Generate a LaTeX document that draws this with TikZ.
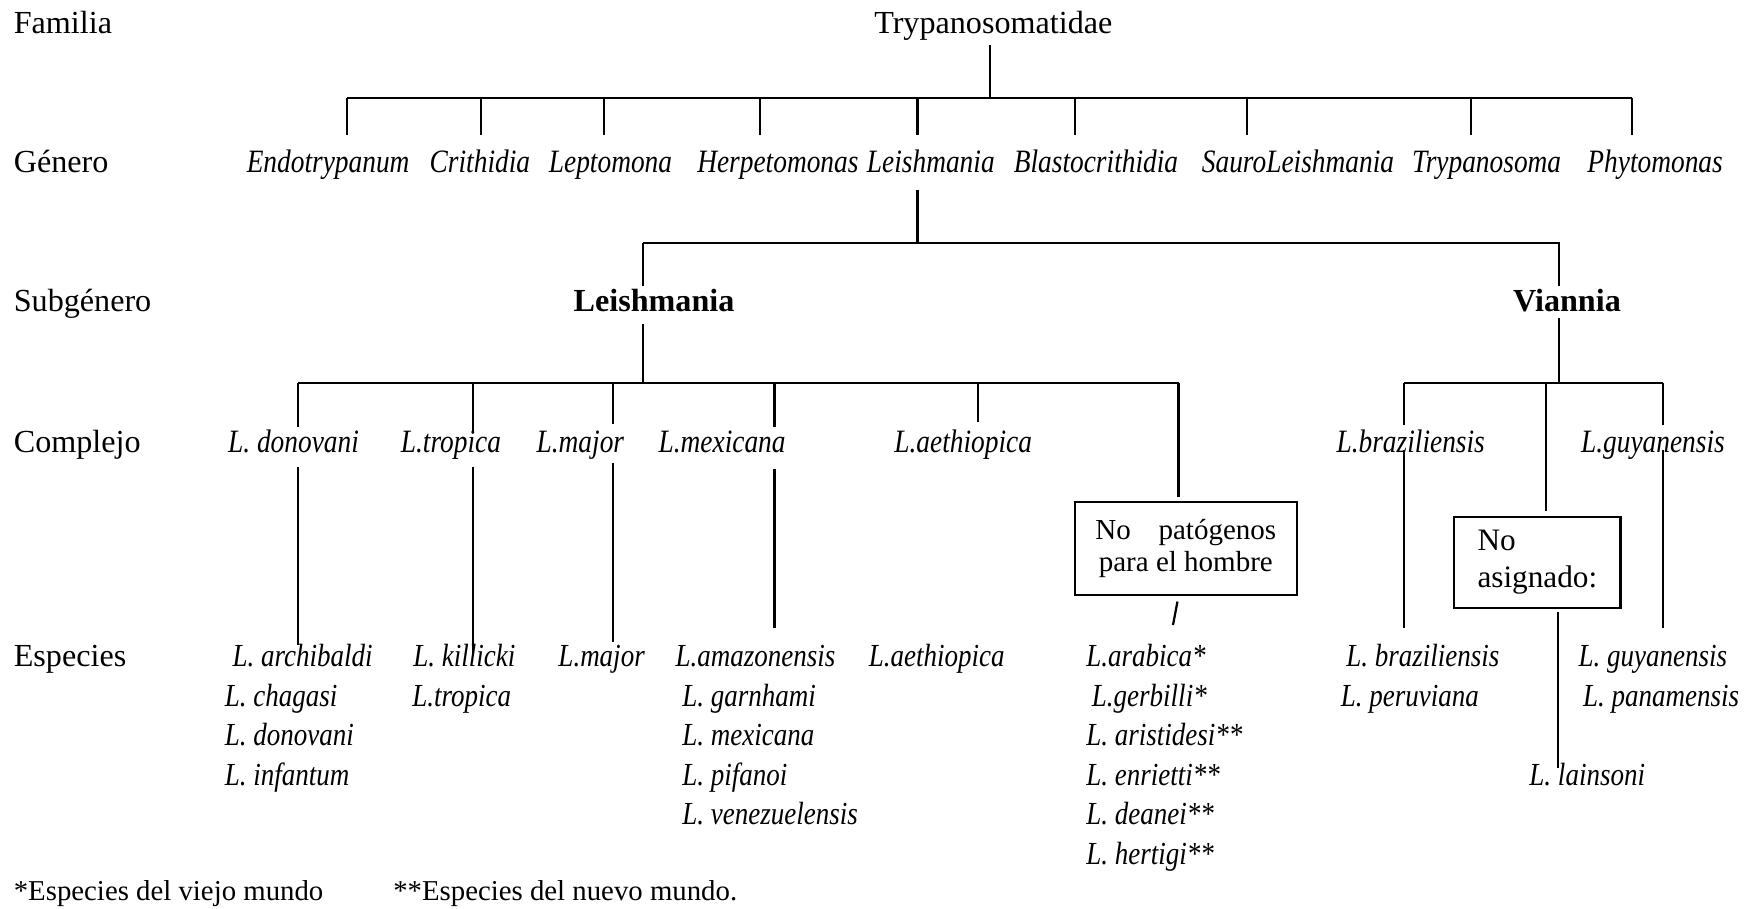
\documentclass[tikz,border=0pt]{standalone}
\usepackage{fontspec}
\setmainfont{Liberation Serif}[ItalicFeatures={FakeStretch=0.84}]
\begin{document}
\begin{tikzpicture}[x=0.5pt,y=-0.5pt,
  ln/.style={line width=1pt},
  txt/.style={inner sep=0pt, font=\fontsize{14.4}{17.75}\selectfont},
  lab/.style={txt, anchor=base west},
  ctr/.style={txt, anchor=base},
  foot/.style={inner sep=0pt, anchor=base west, font=\fontsize{12.9}{15}\selectfont},
  gen/.style={inner sep=0pt, anchor=base, font=\fontsize{14.6}{17.75}\selectfont\itshape},
  sp/.style={inner sep=0pt, anchor=base west, font=\fontsize{14.4}{17.75}\selectfont\itshape},
  sub/.style={inner sep=0pt, anchor=base, font=\fontsize{14.4}{17.75}\selectfont\bfseries},
  boxnode/.style={draw, line width=1pt, inner sep=0pt}]
\useasboundingbox (0,0) rectangle (1568,814);

% row labels
\node[lab] (rFam) at (12,30) {Familia};
\node[lab] (rGen) at (12,155) {Género};
\node[lab] (rSub) at (12,279) {Subgénero};
\node[lab] (rCom) at (12,405) {Complejo};
\node[lab] (rEsp) at (12,597) {Especies};

% familia
\node[ctr] (fam) at (890,30) {Trypanosomatidae};

% generos
\node[gen] (g1) at (294,155) {Endotrypanum};
\node[gen] (g2) at (430,155) {Crithidia};
\node[gen] (g3) at (547,155) {Leptomona};
\node[gen] (g4) at (697,155) {Herpetomonas};
\node[gen] (g5) at (834,155) {Leishmania};
\node[gen] (g6) at (982,155) {Blastocrithidia};
\node[gen] (g7) at (1163,155) {SauroLeishmania};
\node[gen] (g8) at (1332,155) {Trypanosoma};
\node[gen] (g9) at (1483,155) {Phytomonas};

% subgeneros
\node[sub] (sL) at (586,279) {Leishmania};
\node[sub] (sV) at (1404,279) {Viannia};

% complejos
\node[gen] (c1) at (263,405) {L. donovani};
\node[gen] (c2) at (404,405) {L.tropica};
\node[gen] (c3) at (520,405) {L.major};
\node[gen] (c4) at (647,405) {L.mexicana};
\node[gen] (c5) at (863,405) {L.aethiopica};
\node[gen] (c6) at (1264,405) {L.braziliensis};
\node[gen] (c7) at (1481,405) {L.guyanensis};

% boxes
\node[boxnode, minimum width=99.5pt, minimum height=41.5pt, align=center,
  font=\fontsize{13}{14.5}\selectfont] (box1) at (1062.5,491.5)
  {\makebox[81pt][s]{No\hfill patógenos}\\para el hombre};
\node[boxnode, minimum width=74.5pt, minimum height=41pt, align=left,
  font=\fontsize{14}{16.5}\selectfont] (box2) at (1377.5,504)
  {No\\asignado:};

% especies
\node[sp] (e11) at (208,597) {L. archibaldi};
\node[sp] (e12) at (201,633) {L. chagasi};
\node[sp] (e13) at (201,668) {L. donovani};
\node[sp] (e14) at (201,704) {L. infantum};
\node[sp] (e21) at (370,597) {L. killicki};
\node[sp] (e22) at (369,633) {L.tropica};
\node[sp] (e31) at (500,597) {L.major};
\node[sp] (e41) at (605,597) {L.amazonensis};
\node[sp] (e42) at (611,633) {L. garnhami};
\node[sp] (e43) at (611,668) {L. mexicana};
\node[sp] (e44) at (611,704) {L. pifanoi};
\node[sp] (e45) at (611,739) {L. venezuelensis};
\node[sp] (e51) at (778,597) {L.aethiopica};
\node[sp] (e61) at (973,597) {L.arabica*};
\node[sp] (e62) at (978,633) {L.gerbilli*};
\node[sp] (e63) at (973,668) {L. aristidesi**};
\node[sp] (e64) at (973,704) {L. enrietti**};
\node[sp] (e65) at (973,739) {L. deanei**};
\node[sp] (e66) at (973,775) {L. hertigi**};
\node[sp] (e71) at (1206,597) {L. braziliensis};
\node[sp] (e72) at (1201,633) {L. peruviana};
\node[sp] (e81) at (1414,597) {L. guyanensis};
\node[sp] (e82) at (1418,633) {L. panamensis};
\node[sp] (e91) at (1370,704) {L. lainsoni};

% footnotes
\node[foot] (n1) at (12,807) {*Especies del viejo mundo};
\node[foot] (n2) at (352,807) {**Especies del nuevo mundo.};

% ---------- connectors ----------
% familia -> generos
\coordinate (fT) at (887,40);
\coordinate (fB) at (887,88);
\coordinate (b1L) at (311,88);
\coordinate (b1R) at (1462,88);
\draw[ln] (fT) -- (fB);
\draw[ln] (b1L) -- (b1R);
\foreach \n/\x in {1/311,2/431,3/541,4/681,5/822,6/963,7/1117,8/1318,9/1462}{
  \coordinate (gt\n) at (\x,88);
  \coordinate (gb\n) at (\x,121);
  \draw[ln] (gt\n) -- (gb\n);
}
% Leishmania -> subgeneros
\coordinate (lT) at (822,170);
\coordinate (lB) at (822,218);
\coordinate (b2L) at (576,218);
\coordinate (b2R) at (1397,218);
\coordinate (sLt) at (576,256);
\coordinate (sVt) at (1397,256);
\draw[ln] (lT) -- (lB);
\draw[ln] (b2L) -- (sLt);
\draw[ln] (b2L) -- (b2R) -- (sVt);
% subgenero Leishmania -> complejos
\coordinate (sLb) at (576,290);
\coordinate (b3M) at (576,343);
\coordinate (b3L) at (267,343);
\coordinate (b3R) at (1056,343);
\draw[ln] (sLb) -- (b3M);
\draw[ln] (b3L) -- (b3R);
\foreach \n/\x/\y in {1/267/383,2/424/386,3/549/380,4/694/383,5/876/378}{
  \coordinate (ct\n) at (\x,343);
  \coordinate (cb\n) at (\x,\y);
  \draw[ln] (ct\n) -- (cb\n);
}
\coordinate (bx1t) at (1056,445);
\draw[ln] (b3R) -- (bx1t);
% subgenero Viannia -> complejos
\coordinate (sVb) at (1397,285);
\coordinate (b4M) at (1397,343);
\coordinate (b4L) at (1258,343);
\coordinate (b4R) at (1490,343);
\coordinate (b4C) at (1385,343);
\draw[ln] (sVb) -- (b4M);
\draw[ln] (b4L) -- (b4R);
\coordinate (v1b) at (1258,381);
\coordinate (v3b) at (1490,381);
\coordinate (bx2t) at (1385,458);
\draw[ln] (b4L) -- (v1b);
\draw[ln] (b4R) -- (v3b);
\draw[ln] (b4C) -- (bx2t);
% complejos -> especies
\foreach \x/\a/\b in {267/418/578,424/418/588,549/415/575,694/420/563,1258/403/563,1490/403/563}{
  \coordinate (ka\x) at (\x,\a);
  \coordinate (kb\x) at (\x,\b);
  \draw[ln] (ka\x) -- (kb\x);
}
% boxes -> especies
\coordinate (bx1a) at (1055,539);
\coordinate (bx1b) at (1051,560);
\draw[ln] (bx1a) -- (bx1b);
\coordinate (bx2a) at (1396,548);
\coordinate (bx2b) at (1396,688);
\draw[ln] (bx2a) -- (bx2b);
\end{tikzpicture}
\end{document}
